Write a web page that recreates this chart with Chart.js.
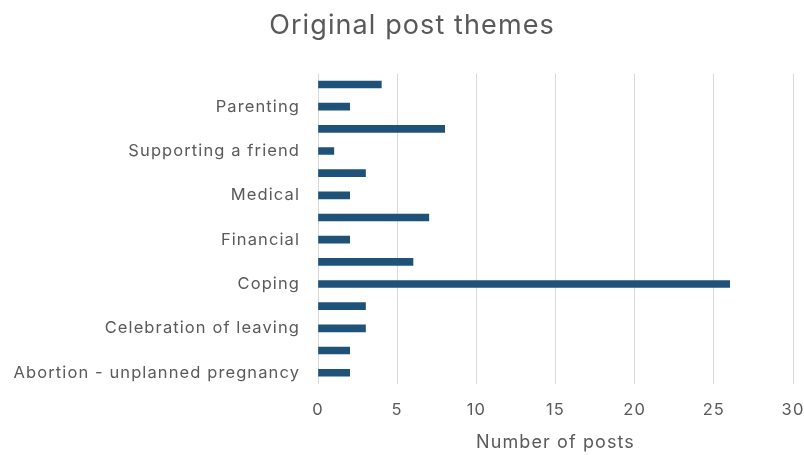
<!DOCTYPE html>
<html>
<head>
<meta charset="utf-8">
<script src="https://cdn.jsdelivr.net/npm/chart.js@4.4.1/dist/chart.umd.min.js"></script>
<style>
  html, body { margin: 0; padding: 0; background: #fff; }
  .wrap { width: 804px; height: 455px; }
</style>
</head>
<body>
<div class="wrap"><canvas id="themes"></canvas></div>
<script>
// categories top to bottom; every other one has no label on the axis
const themes = ['', 'Parenting', '', 'Supporting a friend', '', 'Medical', '', 'Financial',
    '', 'Coping', '', 'Celebration of leaving', '', 'Abortion - unplanned pregnancy']
const posts = [4, 2, 8, 1, 3, 2, 7, 2, 6, 26, 3, 3, 2, 2]
const xTicks = [0, 5, 10, 15, 20, 25, 30]

const textGrey = '#595959'
Chart.defaults.font.family = "Inter, sans-serif"
Chart.defaults.color = textGrey

// slightly looser text tracking on every label, title nudged right a bit
const spacing = {
    id: 'spacing',
    beforeUpdate: chart => { chart.ctx.letterSpacing = '1.1px' },
    afterLayout: chart => {
        if (chart.titleBlock) chart.titleBlock.left += 20
    },
    beforeDraw: chart => { chart.ctx.letterSpacing = '1.1px' }
}

const ctx = document.getElementById('themes')

new Chart(ctx, {
    type: 'bar',
    data: {
        labels: themes,
        datasets: [{
            label: 'Number of posts',
            data: posts,
            backgroundColor: '#1f5278',
            barThickness: 7,
            categoryPercentage: 1
        }]
    },
    options: {
        indexAxis: 'y',
        responsive: true,
        maintainAspectRatio: false,
        animation: false,
        layout: {
            padding: {top: 6, right: 0, bottom: 5, left: 0}
        },
        scales: {
            x: {
                min: xTicks[0],
                max: xTicks[xTicks.length - 1],
                afterBuildTicks: axis => {
                    axis.ticks = xTicks.map(v => ({value: v}))
                },
                afterFit: axis => {
                    axis.paddingRight = 11
                },
                grid: {color: '#d9d9d9', lineWidth: 1, drawTicks: false},
                border: {display: false},
                ticks: {padding: 16, font: {size: 16.5}, color: textGrey},
                title: {
                    display: true,
                    text: 'Number of posts',
                    font: {size: 18, lineHeight: 0.8},
                    color: textGrey,
                    padding: {top: 0, bottom: 0}
                }
            },
            y: {
                grid: {display: false, drawTicks: false},
                border: {display: false},
                ticks: {autoSkip: false, padding: 18, font: {size: 16.5}, color: textGrey},
                afterFit: axis => {
                    axis.width = 318
                }
            }
        },
        plugins: {
            legend: {display: false},
            tooltip: {enabled: false},
            title: {
                display: true,
                text: 'Original post themes',
                font: {size: 27, weight: 'normal'},
                color: textGrey,
                padding: {top: 4, bottom: 31}
            }
        }
    },
    plugins: [spacing]
})
</script>
</body>
</html>
